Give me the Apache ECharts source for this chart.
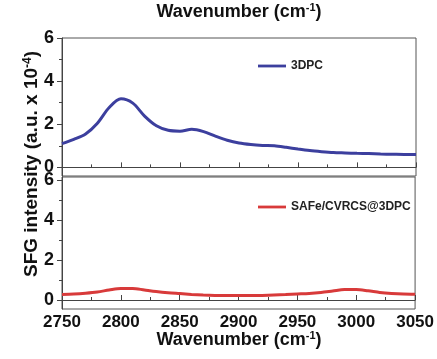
<!DOCTYPE html>
<html><head><meta charset="utf-8">
<script src="https://cdn.jsdelivr.net/npm/echarts@6/dist/echarts.min.js"></script>
<style>html,body{margin:0;padding:0;background:#fff}#c{width:437px;height:359px}</style>
</head><body><div id="c"></div>
<script>
const wavenumbers = [2750,2760,2770,2780,2790,2800,2810,2820,2830,2840,2850,2860,2870,2880,2890,2900,2910,2920,2930,2940,2950,2960,2970,2980,2990,3000,3010,3020,3030,3040,3050];
const int3DPC = [1.10,1.30,1.55,2.05,2.78,3.18,2.98,2.38,1.93,1.72,1.68,1.77,1.66,1.45,1.26,1.13,1.06,1.02,1.00,0.93,0.85,0.78,0.73,0.69,0.67,0.65,0.64,0.62,0.61,0.60,0.60];
const intSAFe = [0.28,0.30,0.34,0.40,0.50,0.58,0.58,0.50,0.42,0.36,0.32,0.28,0.25,0.23,0.22,0.22,0.22,0.23,0.25,0.27,0.30,0.33,0.38,0.45,0.52,0.52,0.46,0.38,0.33,0.30,0.29];
const xTicks = [2750,2800,2850,2900,2950,3000,3050];
const yTicks = [0,2,4,6];
const yMinor = [1,3,5];

const FONT = 'Liberation Sans, Arial, sans-serif';
const ax = '#444';
const pair = (xs, ys) => xs.map((x,i)=>[x, ys[i]]);

function xAxis(grid, labels){
  return {type:'value', gridIndex:grid, min:xTicks[0], max:xTicks[xTicks.length-1], interval:50,
    axisLine:{show:true, lineStyle:{color:ax}}, splitLine:{show:false},
    axisTick:{inside:true, length:5, lineStyle:{color:ax}},
    minorTick:{show:true, splitNumber:2, length:3, lineStyle:{color:ax}},
    axisLabel:{show:labels, formatter:v=>String(v), color:'#111', fontFamily:FONT, fontWeight:'bold', fontSize:17, margin:5}};
}
function yAxis(grid, min, max){
  return {type:'value', gridIndex:grid, min:min, max:max,
    axisLine:{show:true, lineStyle:{color:ax}}, splitLine:{show:false},
    axisTick:{show:true, customValues:yTicks, length:5, lineStyle:{color:ax}},
    axisLabel:{show:true, customValues:yTicks, formatter:v=>String(v), color:'#111', fontFamily:FONT, fontWeight:'bold', fontSize:18, margin:8}};
}
function yMinorAxis(grid, min, max){
  return {type:'value', gridIndex:grid, min:min, max:max, position:'left',
    axisLine:{show:false}, splitLine:{show:false}, axisLabel:{show:false},
    axisTick:{show:true, customValues:yMinor, length:3, lineStyle:{color:ax}}};
}
const lineIcon = 'path://M0,0L30,0L30,3L0,3Z';

const chart = echarts.init(document.getElementById('c'), null, {renderer:'canvas'});
chart.setOption({
  backgroundColor:'#fff',
  animation:false,
  grid:[
    {left:62, right:21, top:38, height:138, show:true, borderColor:'#555', borderWidth:1},
    {left:62, right:21, top:177, height:132, show:true, borderColor:'#555', borderWidth:1}
  ],
  xAxis:[xAxis(0,false), xAxis(1,true)],
  yAxis:[yAxis(0,-0.4,6), yAxis(1,-0.45,6.15), yMinorAxis(0,-0.4,6), yMinorAxis(1,-0.45,6.15)],
  legend:[
    {data:[{name:'3DPC', icon:lineIcon}], left:253, top:55, itemWidth:28, itemHeight:3, itemGap:3,
     textStyle:{fontFamily:FONT, fontWeight:'bold', fontSize:12, color:'#222'}},
    {data:[{name:'SAFe/CVRCS@3DPC', icon:lineIcon}], left:253, top:196, itemWidth:28, itemHeight:3, itemGap:3,
     textStyle:{fontFamily:FONT, fontWeight:'bold', fontSize:12, color:'#222'}}
  ],
  series:[
    {name:'3DPC', type:'line', xAxisIndex:0, yAxisIndex:0, data:pair(wavenumbers,int3DPC), smooth:0.3,
     symbol:'none', lineStyle:{color:'#3c3f9e', width:3}, itemStyle:{color:'#3c3f9e'}},
    {name:'SAFe/CVRCS@3DPC', type:'line', xAxisIndex:1, yAxisIndex:1, data:pair(wavenumbers,intSAFe), smooth:0.3,
     symbol:'none', lineStyle:{color:'#d83a3a', width:3}, itemStyle:{color:'#d83a3a'}}
  ],
  graphic:[
    {type:'text', x:239, y:12, style:{
      text:'{a|Wavenumber (cm}{s|-1}{a|)}', align:'center', verticalAlign:'middle',
      rich:{a:{fontFamily:FONT, fontWeight:'bold', fontSize:18, fill:'#111'},
            s:{fontFamily:FONT, fontWeight:'bold', fontSize:11, fill:'#111', padding:[0,0,9,0]}}}},
    {type:'text', x:239, y:340, style:{
      text:'{a|Wavenumber (cm}{s|-1}{a|)}', align:'center', verticalAlign:'middle',
      rich:{a:{fontFamily:FONT, fontWeight:'bold', fontSize:18, fill:'#111'},
            s:{fontFamily:FONT, fontWeight:'bold', fontSize:11, fill:'#111', padding:[0,0,9,0]}}}},
    {type:'text', x:32, y:164, rotation:Math.PI/2, style:{
      text:'{a|SFG intensity (a.u. x 10}{s|-4}{a|)}', align:'center', verticalAlign:'middle',
      rich:{a:{fontFamily:FONT, fontWeight:'bold', fontSize:19, fill:'#111'},
            s:{fontFamily:FONT, fontWeight:'bold', fontSize:12, fill:'#111', padding:[0,0,9,0]}}}}
  ]
});
</script></body></html>
